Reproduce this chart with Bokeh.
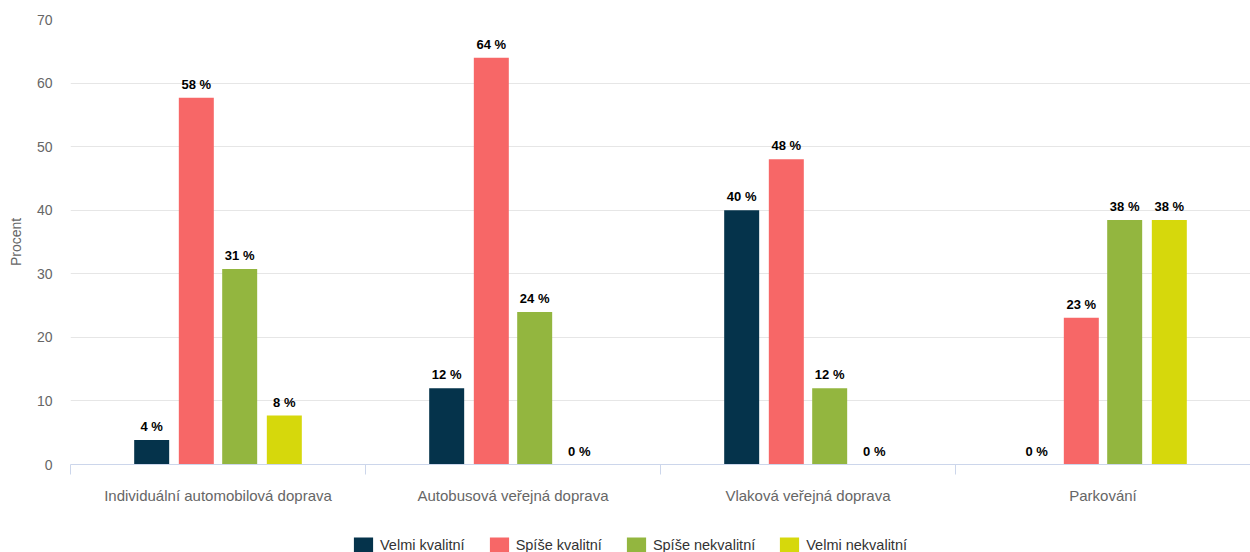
import numpy as np
from bokeh.plotting import figure
from bokeh.layouts import column
from bokeh.models import ColumnDataSource, Range1d, FixedTicker, Legend, LegendItem
from bokeh.transform import dodge
from bokeh.core.properties import value
from bokeh.embed import file_html
from bokeh.resources import INLINE

# ---- data ----
categories = ["Individuální automobilová doprava", "Autobusová veřejná doprava",
              "Vlaková veřejná doprava", "Parkování"]
series_names = ["Velmi kvalitní", "Spíše kvalitní", "Spíše nekvalitní", "Velmi nekvalitní"]
velmi_kvalitni = [3.85, 12.0, 40.0, 0.0]
spise_kvalitni = [57.69, 64.0, 48.0, 23.08]
spise_nekvalitni = [30.77, 24.0, 12.0, 38.46]
velmi_nekvalitni = [7.69, 0.0, 0.0, 38.46]
y_ticks = [0, 10, 20, 30, 40, 50, 60, 70]
y_title = "Procent"

# ---- style ----
colors = ["#05334b", "#f76767", "#93b63f", "#d6d80c"]
FONT = "Liberation Sans"
offsets = [-0.2248, -0.0735, 0.0735, 0.2248]
bar_w = 0.1186

series = [velmi_kvalitni, spise_kvalitni, spise_nekvalitni, velmi_nekvalitni]
xc = np.arange(len(categories)) + 0.5
data = {"xc": xc}
for i, s in enumerate(series):
    data[f"v{i}"] = s
    data[f"l{i}"] = [f"{round(v)} %" for v in s]
src = ColumnDataSource(data)

p = figure(width=1250, height=510,
           x_range=Range1d(0, len(categories)), y_range=Range1d(0, 70),
           output_backend="svg", toolbar_location=None,
           min_border_left=70, min_border_right=0, min_border_top=19, min_border_bottom=46)
p.outline_line_color = None
p.background_fill_color = "white"
p.border_fill_color = "white"

for i, (s, c, off) in enumerate(zip(series, colors, offsets)):
    p.vbar(x=dodge("xc", off, range=p.x_range), top=f"v{i}", bottom=0, width=bar_w,
           source=src, fill_color=c, line_color=None)
    p.text(x=dodge("xc", off, range=p.x_range), y=f"v{i}", text=f"l{i}", source=src,
           text_align="center", text_baseline="bottom", y_offset=-6,
           text_font=value(FONT), text_font_size="13px", text_font_style="bold",
           text_color="#000000")

# x axis
xa = p.xaxis[0]
xa.ticker = FixedTicker(ticks=list(xc), minor_ticks=list(range(len(categories) + 1)))
xa.major_label_overrides = {float(x): c for x, c in zip(xc, categories)}
xa.axis_line_color = "#ccd6eb"
xa.major_tick_line_color = None
xa.major_tick_out = 0
xa.major_tick_in = 0
xa.minor_tick_line_color = "#ccd6eb"
xa.minor_tick_out = 10
xa.minor_tick_in = 0
xa.major_label_standoff = 12
xa.major_label_text_font = FONT
xa.major_label_text_font_size = "15px"
xa.major_label_text_color = "#666666"

# y axis
ya = p.yaxis[0]
ya.ticker = FixedTicker(ticks=y_ticks)
ya.axis_line_color = None
ya.major_tick_line_color = None
ya.minor_tick_line_color = None
ya.major_tick_out = 0
ya.major_tick_in = 0
ya.major_label_standoff = 18
ya.major_label_text_font = FONT
ya.major_label_text_font_size = "14px"
ya.major_label_text_color = "#666666"
ya.axis_label = y_title
ya.axis_label_standoff = 10
ya.axis_label_text_font = FONT
ya.axis_label_text_font_size = "14px"
ya.axis_label_text_font_style = "normal"
ya.axis_label_text_color = "#666666"

p.xgrid.grid_line_color = None
p.ygrid.grid_line_color = "#e6e6e6"

# ---- legend strip (its bars lie outside the strip's visible y range) ----
p2 = figure(width=1250, height=42, x_range=Range1d(0, len(categories)),
            y_range=Range1d(1000, 1001),
            output_backend="svg", toolbar_location=None,
            x_axis_location=None, y_axis_location=None,
            min_border_left=0, min_border_right=0, min_border_top=0, min_border_bottom=0)
p2.outline_line_color = None
p2.xgrid.grid_line_color = None
p2.ygrid.grid_line_color = None
p2.background_fill_color = "white"
p2.border_fill_color = "white"
items = []
for i, (name, c, off) in enumerate(zip(series_names, colors, offsets)):
    r = p2.vbar(x=dodge("xc", off, range=p2.x_range), top=f"v{i}", bottom=0, width=bar_w,
                source=src, fill_color=c, line_color=None)
    items.append(LegendItem(label=name, renderers=[r]))

legend = Legend(items=items, orientation="horizontal", location=(281, -3),
                padding=0, margin=0, spacing=22, label_standoff=5,
                glyph_width=24, glyph_height=20, label_height=20,
                label_text_font=FONT, label_text_font_size="14.5px",
                label_text_color="#333333", border_line_color=None,
                background_fill_alpha=0)
p2.add_layout(legend)

layout = column(p, p2, spacing=0)
open("out.html", "w").write(file_html(layout, INLINE))
